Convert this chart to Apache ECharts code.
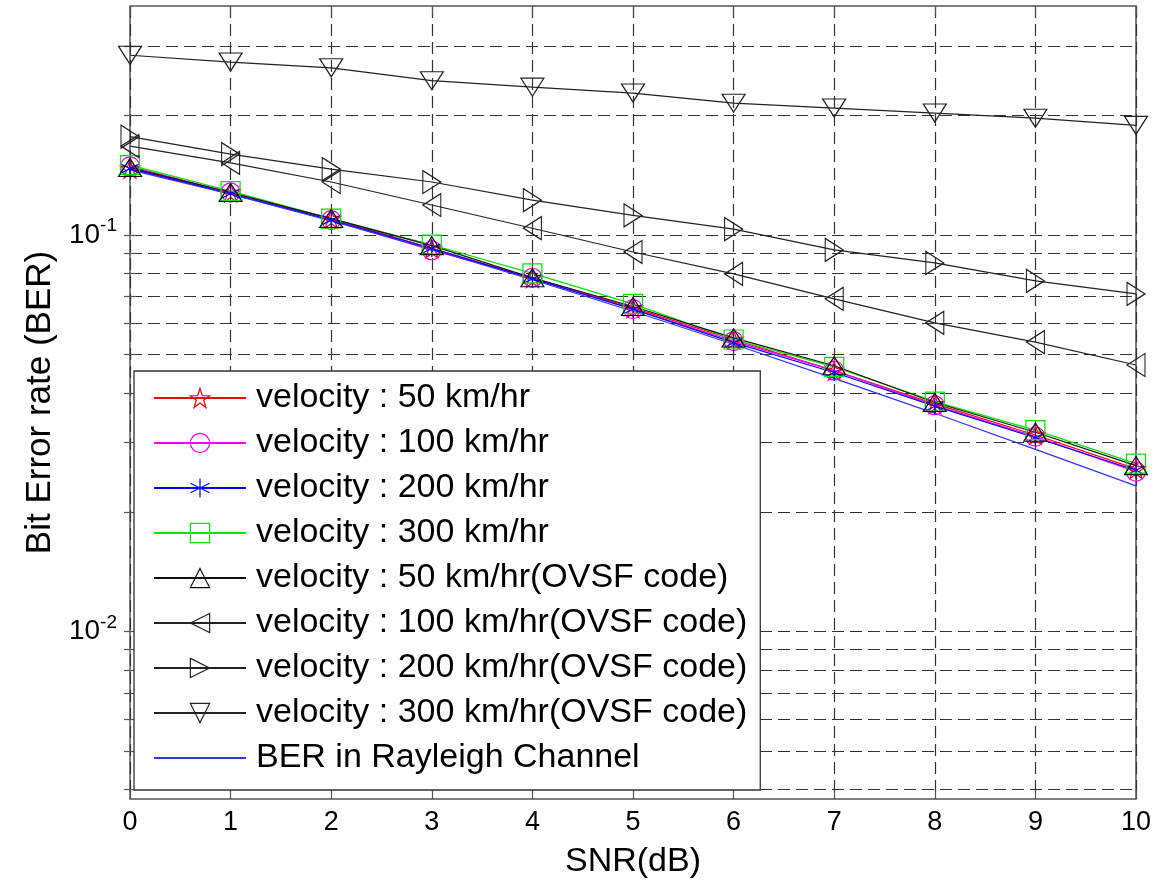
<!DOCTYPE html>
<html>
<head>
<meta charset="utf-8">
<script src="https://cdn.jsdelivr.net/npm/echarts@6/dist/echarts.min.js"></script>
<style>
  html, body { margin: 0; padding: 0; background: #fff; }
  #chart_1 { width: 1155px; height: 885px; }
</style>
</head>
<body>
<div id="chart_1"></div>
<script>
//*************************************************************************************************data
var snr = [0, 1, 2, 3, 4, 5, 6, 7, 8, 9, 10]; // SNR (dB)

var ber_v50 = [0.147, 0.128, 0.110, 0.0925, 0.0780, 0.0655, 0.0545, 0.0455, 0.0375, 0.0313, 0.0257];
var ber_v100 = [0.149, 0.128, 0.109, 0.0915, 0.0780, 0.0650, 0.0540, 0.0455, 0.0372, 0.0310, 0.0253];
var ber_v200 = [0.147, 0.127, 0.109, 0.0925, 0.0775, 0.0650, 0.0535, 0.0450, 0.0370, 0.0308, 0.0255];
var ber_v300 = [0.150, 0.129, 0.110, 0.0945, 0.0800, 0.0670, 0.0545, 0.0465, 0.0380, 0.0322, 0.0265];
var ber_ovsf50 = [0.148, 0.128, 0.110, 0.0940, 0.0780, 0.0660, 0.0550, 0.0468, 0.0378, 0.0318, 0.0262];
var ber_ovsf100 = [0.1675, 0.152, 0.136, 0.119, 0.104, 0.0906, 0.0798, 0.069, 0.060, 0.0537, 0.047];
var ber_ovsf200 = [0.177, 0.160, 0.1466, 0.136, 0.1224, 0.112, 0.1035, 0.0917, 0.085, 0.0766, 0.071];
var ber_ovsf300 = [0.284, 0.273, 0.264, 0.245, 0.236, 0.228, 0.215, 0.209, 0.203, 0.197, 0.189];
var ber_rayleigh = [0.146, 0.1267, 0.1085, 0.0919, 0.0771, 0.0642, 0.0530, 0.0435, 0.0355, 0.0288, 0.0233];

var series_names = [
    'velocity : 50 km/hr',
    'velocity : 100 km/hr',
    'velocity : 200 km/hr',
    'velocity : 300 km/hr',
    'velocity : 50 km/hr(OVSF code)',
    'velocity : 100 km/hr(OVSF code)',
    'velocity : 200 km/hr(OVSF code)',
    'velocity : 300 km/hr(OVSF code)',
    'BER in Rayleigh Channel'
];

// log axis grid positions (MATLAB style minor grid) and labelled decades
var y_grid_values = [0.004, 0.005, 0.006, 0.007, 0.008, 0.009, 0.01, 0.02, 0.03, 0.04, 0.05, 0.06, 0.07, 0.08, 0.09, 0.1, 0.2, 0.3];
var y_label_values = [0.1, 0.01];
var y_label_exponents = ['-1', '-2'];
var y_min = 0.00378;
var y_max = 0.378;

//*************************************************************************************************markers
var font = 'Liberation Sans';
var clear = 'rgba(0,0,0,0)';
var tri_up = 'path://M10,0 L20,16 L0,16 Z';
var tri_down = 'path://M0,0 L20,0 L10,16 Z';
var tri_left = 'path://M0,10 L16,0 L16,20 Z';
var tri_right = 'path://M0,0 L16,10 L0,20 Z';
var star = 'path://M50,0 L61.17,34.63 L97.55,34.55 L68.07,55.87 L79.39,90.45 L50,69 L20.61,90.45 L31.93,55.87 L2.45,34.55 L38.83,34.63 Z';
var asterisk = 'path://M10,0 L10,20 M1.3,5 L18.7,15 M1.3,15 L18.7,5';

function pairs(values) {
    var out = [];
    for (var i = 0; i < snr.length; i++) {
        out.push([snr[i], values[i]]);
    }
    return out;
}

function make_series(name, values, color, symbol, size) {
    return {
        name: name,
        type: 'line',
        data: pairs(values),
        symbol: symbol,
        symbolSize: size,
        showSymbol: true,
        animation: false,
        lineStyle: { color: color, width: 1.2 },
        itemStyle: { color: clear, borderColor: color, borderWidth: 1.2 },
        z: 3
    };
}

//*************************************************************************************************option
var series = [
    make_series(series_names[0], ber_v50, '#ff0000', star, 19),
    make_series(series_names[1], ber_v100, '#ff00ff', 'circle', 19),
    make_series(series_names[2], ber_v200, '#0000ff', asterisk, 17),
    make_series(series_names[3], ber_v300, '#00e600', 'rect', 19),
    make_series(series_names[4], ber_ovsf50, '#111111', tri_up, [23, 18]),
    make_series(series_names[5], ber_ovsf100, '#222222', tri_left, [18, 23]),
    make_series(series_names[6], ber_ovsf200, '#222222', tri_right, [18, 23]),
    make_series(series_names[7], ber_ovsf300, '#222222', tri_down, [23, 18]),
    {
        name: series_names[8],
        type: 'line',
        data: pairs(ber_rayleigh),
        symbol: 'circle',
        symbolSize: 0,
        showSymbol: false,
        animation: false,
        lineStyle: { color: '#3333ff', width: 1.2 },
        itemStyle: { color: clear, borderColor: clear, borderWidth: 0 },
        z: 3
    }
];

var grid_line = { show: true, lineStyle: { color: '#333', width: 1.2, type: [12, 6] } };
var edge_tick = { show: true, inside: true, length: 6, lineStyle: { color: '#555', width: 1.2 } };

var option = {
    backgroundColor: '#fff',
    animation: false,
    textStyle: { fontFamily: font },
    grid: {
        left: 130, right: 19, top: 6, bottom: 86,
        show: true, borderColor: '#555', borderWidth: 1.5,
        backgroundColor: '#fff', containLabel: false
    },
    legend: {
        orient: 'vertical',
        left: 134, top: 371,
        padding: [9, 13, 14, 19],
        itemGap: 9,
        itemWidth: 92,
        itemHeight: 24,
        backgroundColor: '#fff',
        borderColor: '#333',
        borderWidth: 1.3,
        borderRadius: 0,
        itemStyle: { borderWidth: 1.2 },
        textStyle: { fontFamily: font, fontSize: 34, color: '#000', lineHeight: 36, padding: [0, 0, 0, 5] },
        data: series_names,
        selectedMode: false
    },
    xAxis: [{
        type: 'value',
        min: 0, max: 10, interval: 1,
        name: 'SNR(dB)',
        nameLocation: 'middle',
        nameGap: 46,
        nameTextStyle: { fontFamily: font, fontSize: 34, color: '#000' },
        axisLine: { show: false },
        axisTick: { show: true, inside: true, length: 9, lineStyle: { color: '#555', width: 1.2 } },
        axisLabel: { fontFamily: font, fontSize: 27, color: '#000', margin: 10 },
        splitLine: grid_line
    }, {
        type: 'value',
        position: 'top',
        min: 0, max: 10, interval: 1,
        axisLine: { show: false },
        axisTick: { show: true, inside: true, length: 9, lineStyle: { color: '#555', width: 1.2 } },
        axisLabel: { show: false },
        splitLine: { show: false }
    }],
    yAxis: [{
        type: 'log',
        logBase: 10,
        min: y_min, max: y_max,
        name: 'Bit Error rate (BER)',
        nameLocation: 'middle',
        nameGap: 72,
        nameTextStyle: { fontFamily: font, fontSize: 35, color: '#000' },
        axisLine: { show: false },
        axisTick: Object.assign({ customValues: y_grid_values }, edge_tick),
        axisLabel: { show: false },
        splitLine: grid_line
    }, {
        type: 'log',
        logBase: 10,
        position: 'right',
        min: y_min, max: y_max,
        axisLine: { show: false },
        axisTick: Object.assign({ customValues: y_grid_values }, edge_tick),
        axisLabel: { show: false },
        splitLine: { show: false }
    }],
    series: series
};

//*************************************************************************************************draw
var chart_1 = echarts.init(document.getElementById('chart_1'), null, { renderer: 'canvas' });
chart_1.setOption(option);

// decade labels 10^-1, 10^-2 placed through the y axis scale
var label_x = chart_1.convertToPixel({ xAxisIndex: 0 }, 0) - 13;
var decade_labels = y_label_values.map(function (v, i) {
    return {
        type: 'text',
        x: label_x,
        y: chart_1.convertToPixel({ yAxisIndex: 0 }, v),
        z: 10,
        style: {
            text: '{b|10}{s|' + y_label_exponents[i] + '}',
            align: 'right',
            verticalAlign: 'middle',
            rich: {
                b: { fontFamily: font, fontSize: 28, fill: '#000' },
                s: { fontFamily: font, fontSize: 19, fill: '#000', padding: [0, 0, 18, 0] }
            }
        }
    };
});
chart_1.setOption({ graphic: decade_labels });
</script>
</body>
</html>
